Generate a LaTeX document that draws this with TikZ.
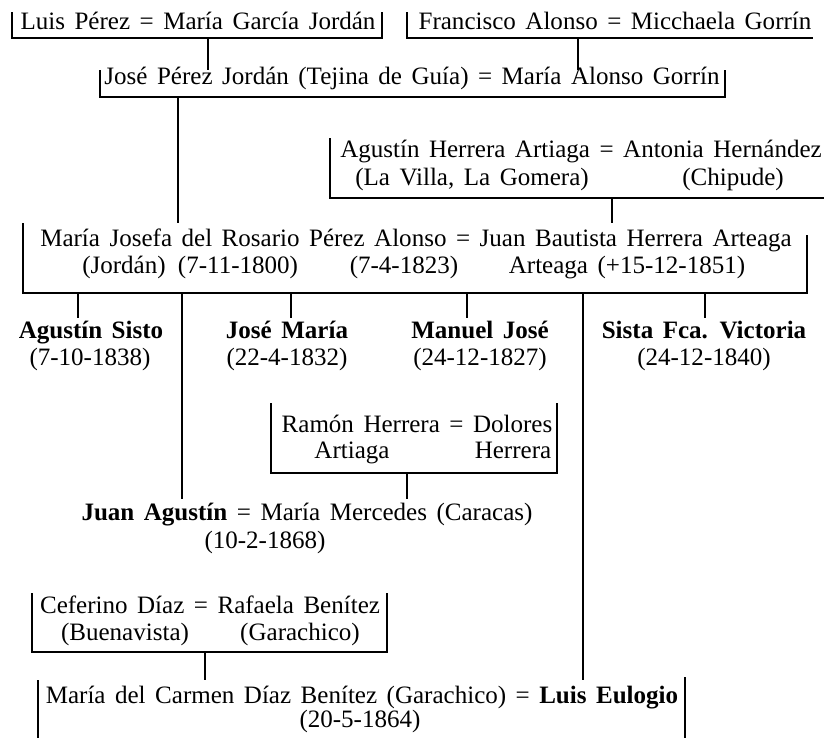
\documentclass[tikz,border=0pt]{standalone}
\usepackage{fontspec}
\setmainfont{Liberation Serif}
\usetikzlibrary{positioning}

\newcommand{\widespace}{\spaceskip=0.38em\relax}
\tikzstyle{person} = [inner sep=0pt, 
anchor=base, 
font=\fontsize{17.8}{21}\selectfont\widespace]
\tikzstyle{heir} = [person, 
font=\fontsize{17.8}{21}\selectfont\bfseries\widespace]
\tikzstyle{line} = [line width=1.2pt]

\begin{document}
\begin{tikzpicture}[x=0.025cm, y=-0.025cm]
\useasboundingbox (0,0) rectangle (824,738);

% great-grandparents
\node (luis) [person] at (198,29) {Luis Pérez = María García Jordán};
\node (francisco) [person] at (615,29) {Francisco Alonso = Micchaela Gorrín};
\draw [line] (12,12) |- (382,38) -- (382,12);
\draw [line] (407,12) |- (813,38);

% grandparents
\node (josep) [person] at (412,84) {José Pérez Jordán (Tejina de Guía) = María Alonso Gorrín};
\draw [line] (100,70) |- (725,97) -- (725,70);
\coordinate (luisdrop) at (208,38);
\coordinate (francdrop) at (578,38);
\draw [line] (luisdrop) -- (luisdrop |- 0,70);
\draw [line] (francdrop) -- (francdrop |- 0,70);

\node (agustinh) [person] at (581,157) {Agustín Herrera Artiaga = Antonia Hernández};
\node (lavilla) [person] at (472,185) {(La Villa, La Gomera)};
\node (chipude) [person] at (733,185) {(Chipude)};
\draw [line] (330,138) |- (824,198);

% parents
\node (mariaj) [person] at (416,246) {María Josefa del Rosario Pérez Alonso = Juan Bautista Herrera Arteaga};
\node (jordan) [person] at (124,273) {(Jordán)};
\node (nac1) [person] at (238,273) {(7-11-1800)};
\node (boda) [person] at (404,273) {(7-4-1823)};
\node (muerte) [person] at (627,273) {Arteaga (+15-12-1851)};
\draw [line] (23,223) |- (807,293) -- (807,235);
\coordinate (josedrop) at (178,97);
\coordinate (agusdrop) at (612,198);
\draw [line] (josedrop) -- (josedrop |- 0,223);
\draw [line] (agusdrop) -- (agusdrop |- 0,223);

% children
\node (sisto) [heir] at (91,338) {Agustín Sisto};
\node (sistod) [person] at (90,365) {(7-10-1838)};
\node (josem) [heir] at (287,338) {José María};
\node (josemd) [person] at (287,365) {(22-4-1832)};
\node (manuel) [heir] at (480,338) {Manuel José};
\node (manueld) [person] at (480,365) {(24-12-1827)};
\node (sista) [heir] at (704,338) {Sista Fca. Victoria};
\node (sistad) [person] at (704,365) {(24-12-1840)};
\draw [line] (78,293) -- (78,318);
\draw [line] (291,293) -- (291,318);
\draw [line] (467,293) -- (467,318);
\draw [line] (705,293) -- (705,318);

% Juan Agustin
\node (ramon) [person] at (417,432) {Ramón Herrera = Dolores};
\node (artiaga) [person] at (352,458) {Artiaga};
\node (herrera) [person] at (513,458) {Herrera};
\draw [line] (271,403) |- (557,473) -- (557,403);
\node (juan) [person] at (307,520) {\textbf{Juan Agustín} = María Mercedes (Caracas)};
\node (juand) [person] at (265,548) {(10-2-1868)};
\coordinate (ramondrop) at (407,473);
\draw [line] (ramondrop) -- (ramondrop |- 0,499);
\draw [line] (182,293) -- (182,499);

% Luis Eulogio
\node (ceferino) [person] at (210,613) {Ceferino Díaz = Rafaela Benítez};
\node (buenavista) [person] at (125,640) {(Buenavista)};
\node (garachico) [person] at (300,640) {(Garachico)};
\draw [line] (32,593) |- (387,652) -- (387,593);
\node (carmen) [person] at (362,703) {María del Carmen Díaz Benítez (Garachico) = \textbf{Luis Eulogio}};
\node (carmend) [person] at (360,727) {(20-5-1864)};
\coordinate (cefdrop) at (205,652);
\draw [line] (cefdrop) -- (cefdrop |- 0,680);
\draw [line] (38,680) -- (38,738);
\draw [line] (685,677) -- (685,738);
\draw [line] (583,293) -- (583,680);

\end{tikzpicture}
\end{document}
